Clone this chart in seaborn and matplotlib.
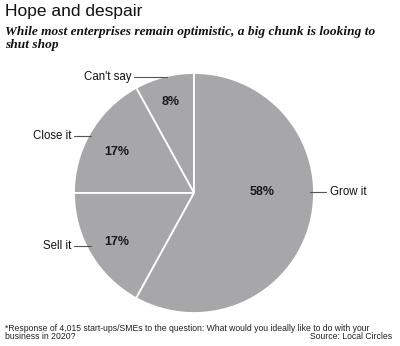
import matplotlib
matplotlib.use("Agg")
import matplotlib.pyplot as plt
import seaborn as sns

sns.set_theme(style="white")
plt.rcParams['font.family'] = ['Liberation Sans', 'DejaVu Sans']

categories = ["Can't say", "Close it", "Sell it", "Grow it"]
values = [8, 17, 17, 58]
pct_labels = ["8%", "17%", "17%", "58%"]

title = "Hope and despair"
subtitle = "While most enterprises remain optimistic, a big chunk is looking to\nshut shop"
footnote1 = "*Response of 4,015 start-ups/SMEs to the question: What would you ideally like to do with your"
footnote2 = "business in 2020?"
source = "Source: Local Circles"

W, H = 400, 346
fig = plt.figure(figsize=(W / 100, H / 100), dpi=100)
fig.patch.set_facecolor("white")

cx, cy, r = 194, 193, 120
ax = fig.add_axes([(cx - r) / W, (H - cy - r) / H, 2 * r / W, 2 * r / H])
grey = "#a7a7aa"
colors = [grey] * len(values)
ax.pie(values, colors=colors, startangle=90, counterclock=True, radius=1,
       wedgeprops=dict(edgecolor="white", linewidth=1.3))
ax.set_xlim(-1, 1)
ax.set_ylim(-1, 1)
ax.set_aspect("equal")
ax.axis("off")

def d(px, py):
    return ((px - cx) / r, (cy - py) / r)

# percentage labels
pct_pos = [d(171, 102), d(117, 152), d(117, 242), d(262, 192)]
for lab, (x, y) in zip(pct_labels, pct_pos):
    ax.text(x, y, lab, ha="center", va="center", fontsize=9,
            fontweight="bold", color="#1a1a1a")

# category labels with leader lines
lbl = [
    (d(134, 77), d(167, 77), "right"),
    (d(74, 136), d(91, 136), "right"),
    (d(74, 246), d(91, 246), "right"),
    (d(310, 192), d(326, 192), "left"),
]
for name, (p0, p1, side) in zip(categories, lbl):
    ax.plot([p0[0], p1[0]], [p0[1], p1[1]], color="#555555", lw=0.8, clip_on=False)
    if side == "right":
        ax.text(p0[0] - 0.02, p0[1], name, ha="right", va="center", fontsize=8.3,
                color="#111111")
    else:
        ax.text(p1[0] + 0.03, p1[1], name, ha="left", va="center", fontsize=8.3,
                color="#111111")

fig.text(5 / W, 1 - 4 / H, title, ha="left", va="top", fontsize=12.5,
         color="#111111")
fig.text(5 / W, 1 - 26 / H, subtitle, ha="left", va="top", fontsize=9.6,
         family=['Liberation Serif', 'DejaVu Serif'], style="italic",
         fontweight="bold", color="#111111", linespacing=1.1)
fig.text(5 / W, 1 - 324 / H, footnote1, ha="left", va="top", fontsize=6.2,
         color="#222222")
fig.text(5 / W, 1 - 332 / H, footnote2, ha="left", va="top", fontsize=6.2,
         color="#222222")
fig.text(392 / W, 1 - 332 / H, source, ha="right", va="top", fontsize=6.2,
         color="#222222")

fig.savefig("out.png", dpi=100, facecolor="white")
